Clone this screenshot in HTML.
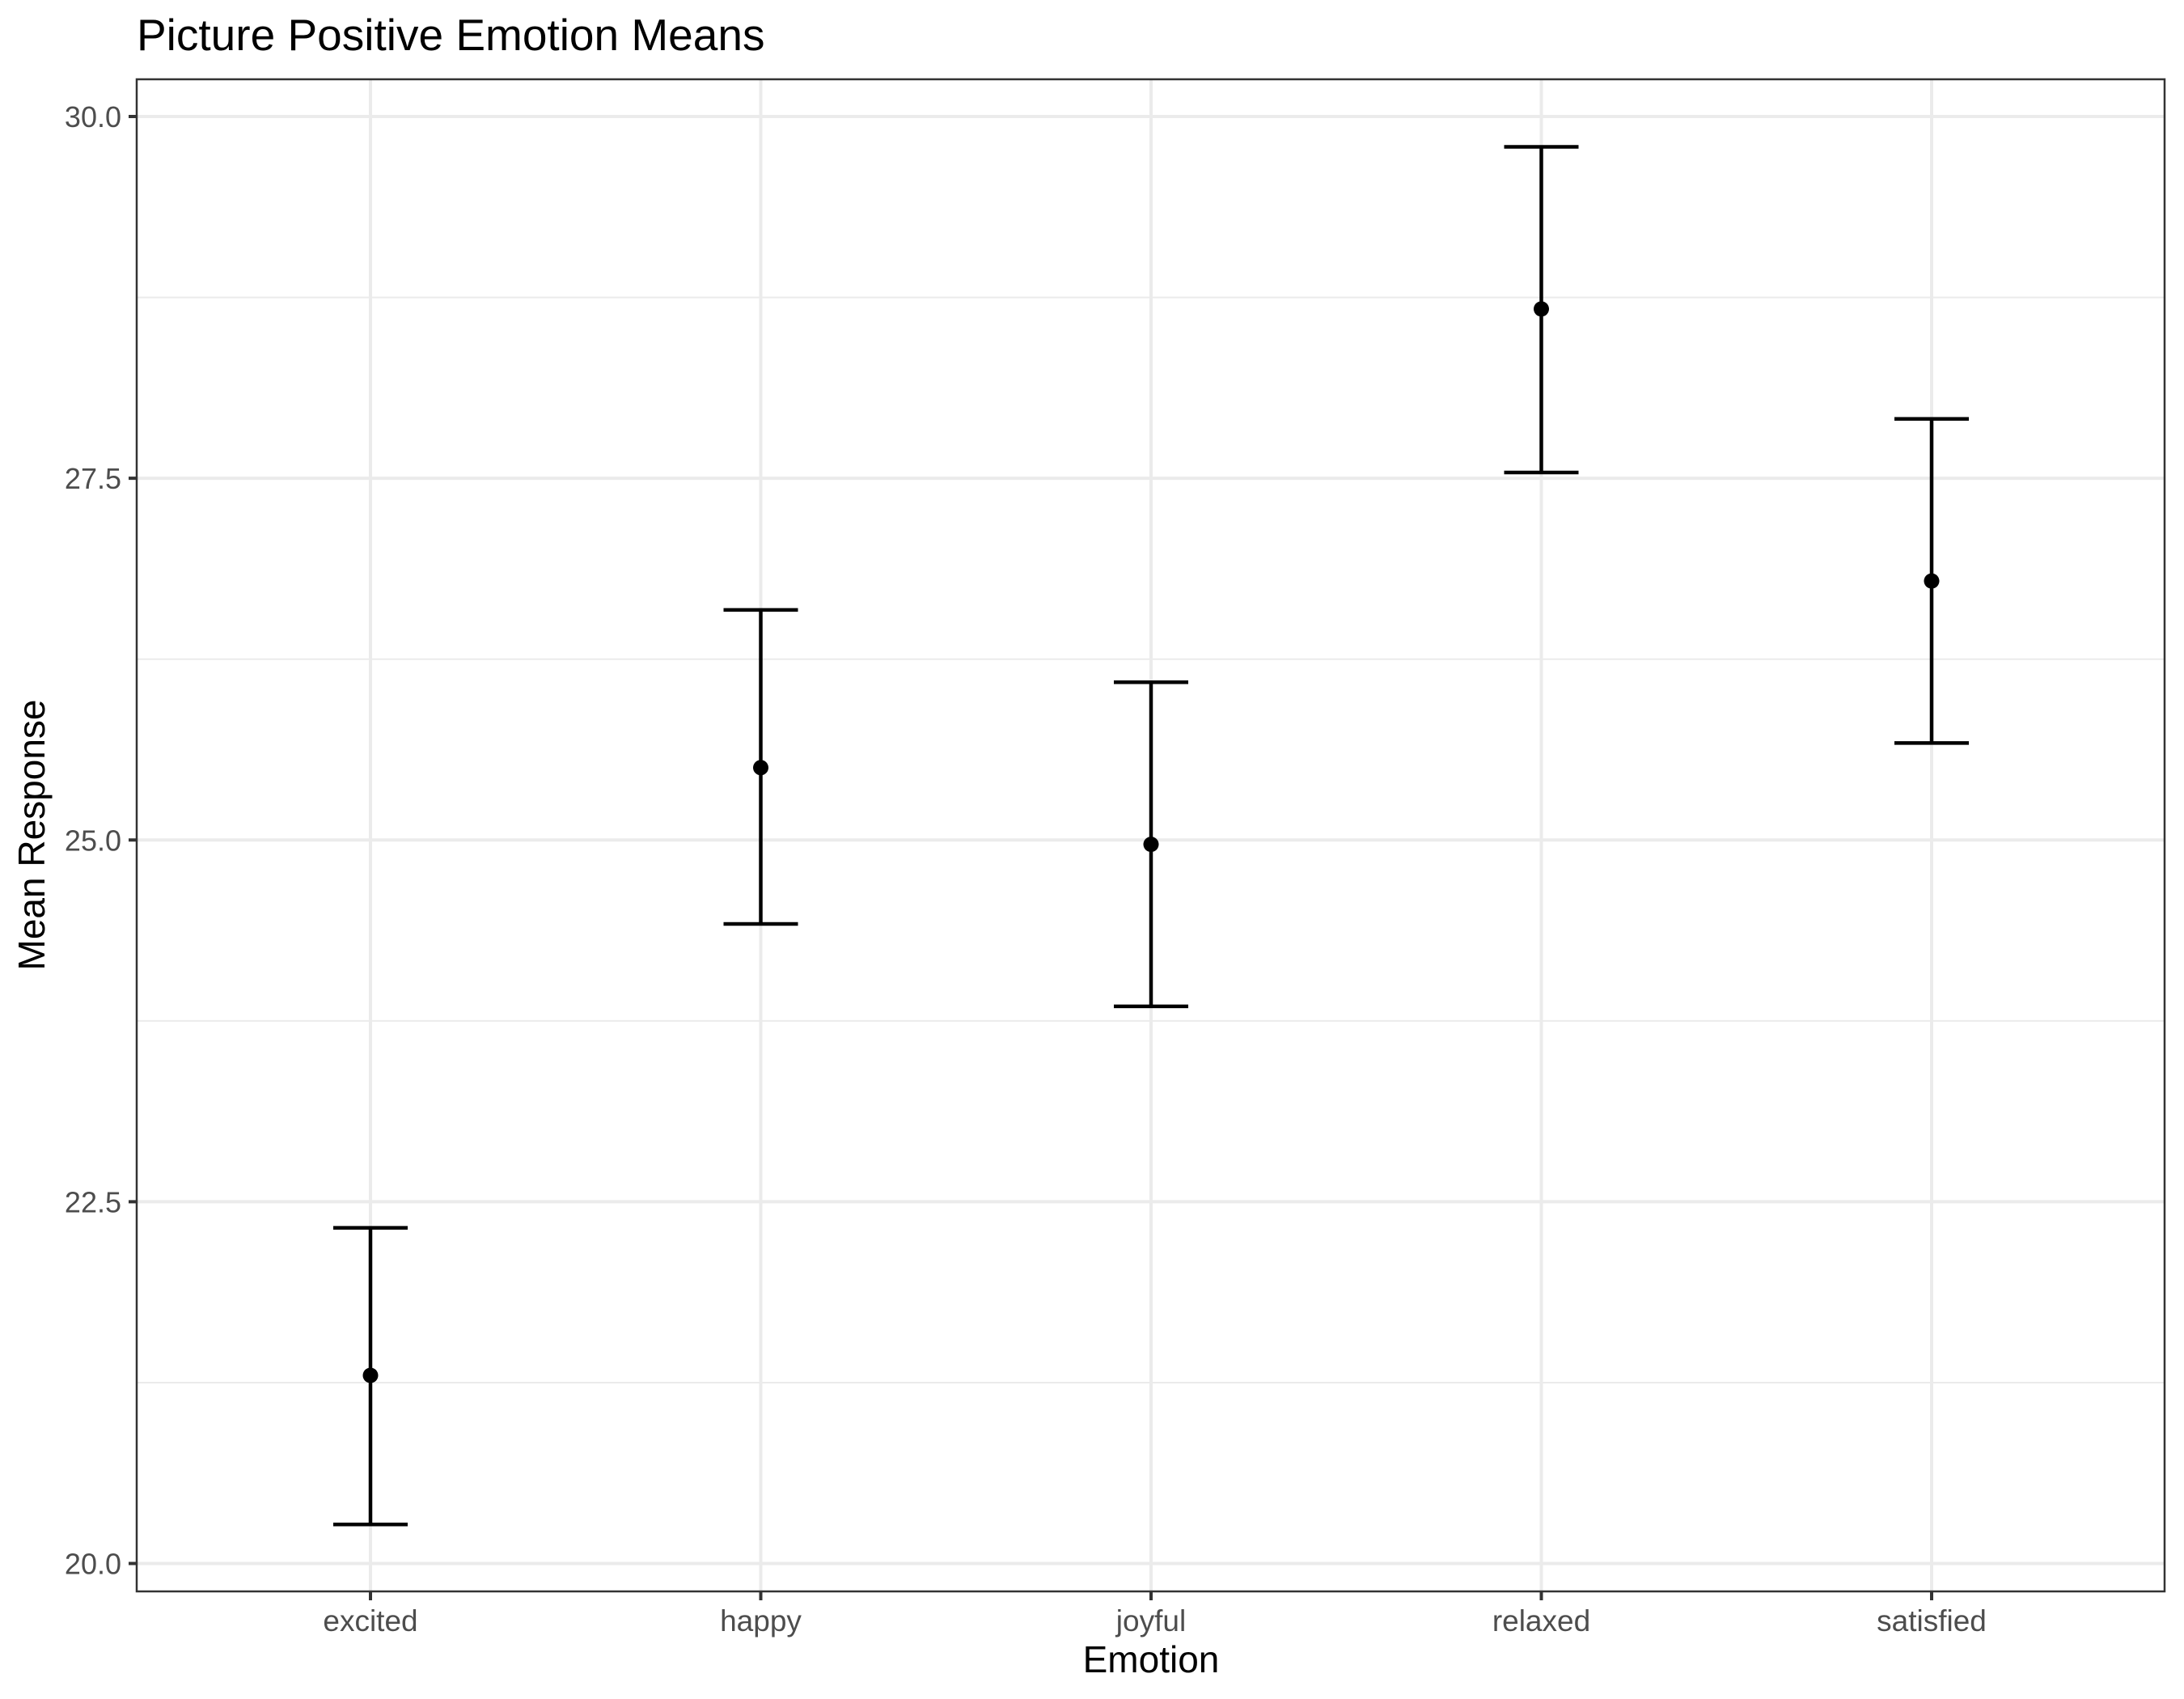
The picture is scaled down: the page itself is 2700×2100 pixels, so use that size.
<!DOCTYPE html>
<html><head><meta charset="utf-8"><style>
html,body{margin:0;padding:0;background:#fff;}
svg{display:block;font-family:"Liberation Sans",Arial,sans-serif;}
</style></head><body>
<svg id="chart" width="2700" height="2100" viewBox="0 0 2700 2100">
<rect width="2700" height="2100" fill="#fff"/>
<text x="169" y="62" font-size="55" fill="#000">Picture Positive Emotion Means</text>
<g id="grid"></g>
<g id="marks"></g>
<rect x="169" y="98" width="2507" height="1869" fill="none" stroke="#333" stroke-width="2.5"/>
<g id="axes"></g>
<text x="1423" y="2067" font-size="46" text-anchor="middle" fill="#000">Emotion</text>
<text transform="translate(55,1032) rotate(-90)" font-size="46" text-anchor="middle" fill="#000">Mean Response</text>
</svg>
<script>
const categories = ["excited","happy","joyful","relaxed","satisfied"];
const means = [21.30, 25.50, 24.97, 28.67, 26.79];
const uppers = [22.32, 26.59, 26.09, 29.79, 27.91];
const lowers = [20.27, 24.42, 23.85, 27.54, 25.67];
const yTicks = [20, 22.5, 25, 27.5, 30];
const yTickLabels = ["20.0","22.5","25.0","27.5","30.0"];
const yMinor = [21.25, 23.75, 26.25, 28.75];

const NS = "http://www.w3.org/2000/svg";
const panelL = 169, panelR = 2676, panelT = 98, panelB = 1967;
function xPos(i){ return 458 + i * 482.5; }
function yPos(v){ return 1932.5 - (v - 20) * 178.85; }
function mk(tag, attrs, parent){
  const e = document.createElementNS(NS, tag);
  for (const k in attrs) e.setAttribute(k, attrs[k]);
  parent.appendChild(e); return e;
}
const grid = document.getElementById('grid');
const marks = document.getElementById('marks');
const axes = document.getElementById('axes');

yMinor.forEach(v => {
  const l = mk('line', {x1:panelL, x2:panelR, y1:yPos(v), y2:yPos(v), stroke:'#ebebeb', 'stroke-width':2}, grid);
  
  
});
yTicks.forEach((v, i) => {
  const y = yPos(v);
  const l = mk('line', {x1:panelL, x2:panelR, y1:y, y2:y, stroke:'#ebebeb', 'stroke-width':4}, grid);
  
  
  const t = mk('line', {x1:159, x2:169, y1:y, y2:y, stroke:'#333', 'stroke-width':4}, axes);
  
  
  const tx = mk('text', {x:150, y:y + 13, 'font-size':36, fill:'#4d4d4d', 'text-anchor':'end'}, axes);
  tx.textContent = yTickLabels[i];
  
  
});
categories.forEach((c, i) => {
  const x = xPos(i);
  const g = mk('line', {x1:x, x2:x, y1:panelT, y2:panelB, stroke:'#ebebeb', 'stroke-width':4}, grid);
  
  
  const t = mk('line', {x1:x, x2:x, y1:panelB, y2:panelB + 11, stroke:'#333', 'stroke-width':4}, axes);
  
  
  const tx = mk('text', {x:x, y:2016, 'font-size':37, fill:'#4d4d4d', 'text-anchor':'middle'}, axes);
  tx.textContent = c;
  
  

  const v = mk('line', {x1:x, x2:x, y1:yPos(uppers[i]), y2:yPos(lowers[i]), stroke:'#000', 'stroke-width':4.5}, marks);
  
  
  const cu = mk('line', {x1:x - 46, x2:x + 46, y1:yPos(uppers[i]), y2:yPos(uppers[i]), stroke:'#000', 'stroke-width':4.5}, marks);
  
  
  const cl = mk('line', {x1:x - 46, x2:x + 46, y1:yPos(lowers[i]), y2:yPos(lowers[i]), stroke:'#000', 'stroke-width':4.5}, marks);
  
  
  const p = mk('circle', {cx:x, cy:yPos(means[i]), r:9.5, fill:'#000'}, marks);
  
  
});
</script>
</body></html>
